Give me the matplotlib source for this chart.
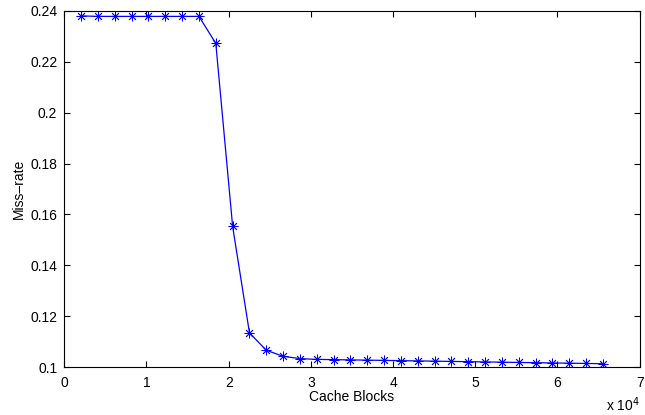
import numpy as np
from matplotlib import pyplot as plt

plt.rcParams['font.family'] = ['Liberation Sans', 'DejaVu Sans']
plt.rcParams['font.size'] = 10

blocks = [2048, 4096, 6144, 8192, 10240, 12288, 14336, 16384,
          18432, 20480, 22528, 24576, 26624, 28672,
          30720, 32768, 34816, 36864, 38912, 40960, 43008, 45056, 47104,
          49152, 51200, 53248, 55296, 57344, 59392, 61440, 63488, 65536]
miss_rate = [0.2380, 0.2378, 0.2378, 0.2378, 0.2378, 0.2378, 0.2378, 0.2378,
             0.2272, 0.1553, 0.1135, 0.1067, 0.1043, 0.1034,
             0.1031, 0.1030, 0.1029, 0.1028, 0.1027, 0.1026, 0.1025, 0.1024, 0.1023,
             0.1022, 0.1021, 0.1020, 0.1019, 0.1018, 0.1017, 0.1016, 0.1015, 0.1014]
xticks = [0, 1, 2, 3, 4, 5, 6, 7]
yticks = [0.1, 0.12, 0.14, 0.16, 0.18, 0.2, 0.22, 0.24]

fig = plt.figure(figsize=(6.45, 4.15), dpi=100)
ax = fig.add_axes([0.0997, 0.115, 0.892, 0.859])
ax.plot(np.array(blocks) / 1e4, miss_rate, color='blue', lw=0.9,
        marker=(8, 2, 0), markersize=7, markeredgewidth=0.6)
ax.set_xlim(0, 7)
ax.set_ylim(0.1, 0.24)
ax.set_xticks(xticks)
ax.set_xticklabels([str(t) for t in xticks])
ax.set_yticks(yticks)
ax.set_yticklabels(['%g' % t for t in yticks])
ax.tick_params(direction='in', top=True, right=True, length=4, width=0.8)
ax.tick_params(axis='x', pad=6)
ax.tick_params(axis='y', pad=5)
for s in ax.spines.values():
    s.set_linewidth(0.8)
ax.set_xlabel('Cache Blocks', labelpad=0)
ax.set_ylabel('Miss\u2013rate', labelpad=3)
fig.text(0.94, 0.01, r'x 10$^4$', ha='left', va='baseline')

plt.savefig('out.png')
